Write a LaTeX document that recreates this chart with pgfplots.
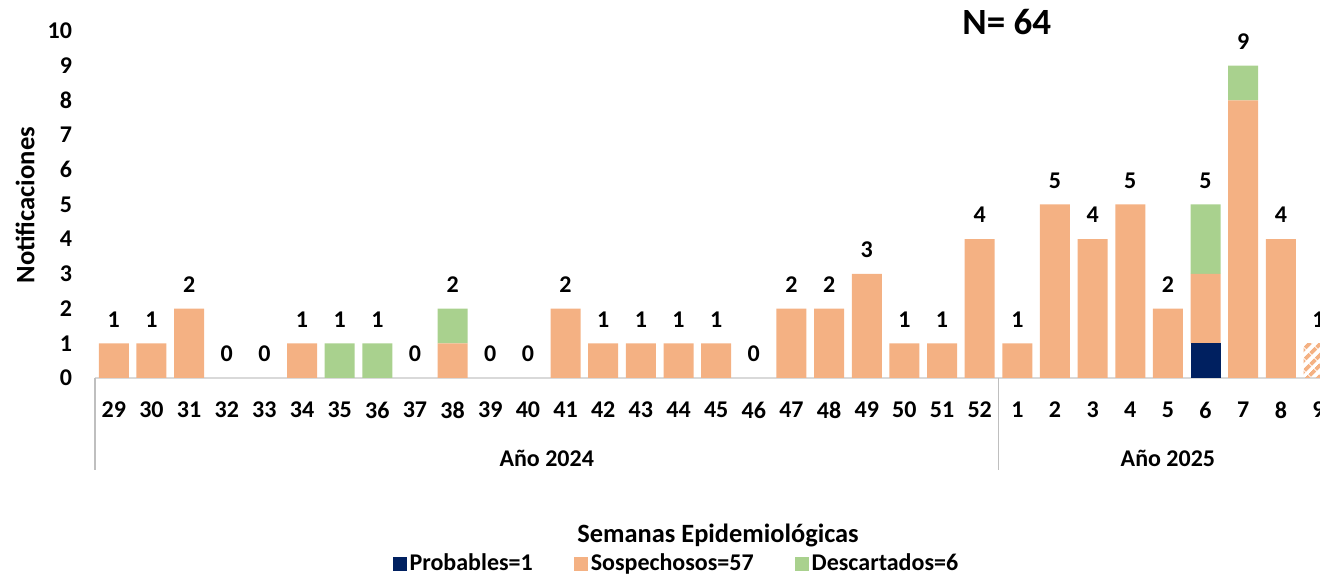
\documentclass[border=0pt]{standalone}
\usepackage{pgfplots}
\pgfplotsset{compat=1.18}
\usepackage{pgfplotstable}
\usepackage{fontspec}
\setmainfont{Carlito}
\usetikzlibrary{patterns.meta}
\definecolor{navy}{HTML}{002060}
\definecolor{peach}{HTML}{F4B183}
\definecolor{lgreen}{HTML}{A9D18E}
\definecolor{axgray}{HTML}{D9D9D9}
\definecolor{sepgray}{HTML}{BFBFBF}

\pgfplotstableread{
x P S D H T
0 0 1 0 0 1
1 0 1 0 0 1
2 0 2 0 0 2
3 0 0 0 0 0
4 0 0 0 0 0
5 0 1 0 0 1
6 0 0 1 0 1
7 0 0 1 0 1
8 0 0 0 0 0
9 0 1 1 0 2
10 0 0 0 0 0
11 0 0 0 0 0
12 0 2 0 0 2
13 0 1 0 0 1
14 0 1 0 0 1
15 0 1 0 0 1
16 0 1 0 0 1
17 0 0 0 0 0
18 0 2 0 0 2
19 0 2 0 0 2
20 0 3 0 0 3
21 0 1 0 0 1
22 0 1 0 0 1
23 0 4 0 0 4
24 0 1 0 0 1
25 0 5 0 0 5
26 0 4 0 0 4
27 0 5 0 0 5
28 0 2 0 0 2
29 1 2 2 0 5
30 0 8 1 0 9
31 0 4 0 0 4
32 0 0 0 1 1
}\data

\pgfplotsset{common/.style={
  scale only axis, width=612.5pt, height=173.5pt,
  xmin=-0.5, xmax=32.04, ymin=0, ymax=10, clip=false,
  /pgf/number format/assume math mode=true}}

\begin{document}
\begin{tikzpicture}
\begin{axis}[
  common,
  ybar stacked, bar width=15pt,
  legend image code/.code={\fill[#1] (0pt,-3.5pt) rectangle (7pt,3.5pt);},
  axis x line*=bottom, axis y line*=left,
  x axis line style={draw=axgray, line width=0.8pt, -},
  y axis line style={draw=none},
  xtick={0,...,32},
  xticklabels={29,30,31,32,33,34,35,36,37,38,39,40,41,42,43,44,45,46,47,48,49,50,51,52,1,2,3,4,5,6,7,8,9},
  ytick={0,...,10},
  major tick length=0pt,
  tick label style={font=\bfseries\fontsize{12}{14}\selectfont},
  xticklabel style={yshift=-8.5pt},
  yticklabel style={xshift=-8pt},
  legend style={at={(0.475,0)}, anchor=center, yshift=-93pt, draw=none, fill=none,
    font=\bfseries\fontsize{12}{14}\selectfont, legend columns=3,
    nodes={inner xsep=1.5pt},
    /tikz/every even column/.append style={column sep=19pt}},
]
\addplot[fill=navy, draw=none] table[x=x, y=P] {\data};
\addlegendentry{Probables=1}
\addplot[fill=peach, draw=none] table[x=x, y=S] {\data};
\addlegendentry{Sospechosos=57}
\addplot[fill=lgreen, draw=none] table[x=x, y=D] {\data};
\addlegendentry{Descartados=6}
\addplot[draw=none, pattern={Lines[angle=45,distance=4pt,line width=2pt]}, pattern color=peach, forget plot] table[x=x, y=H] {\data};
\coordinate (O) at (axis cs:-0.5,0);
\draw[sepgray, line width=0.6pt] (axis cs:-0.5,0) -- ([yshift=-46pt]axis cs:-0.5,0);
\draw[sepgray, line width=0.6pt] (axis cs:23.5,0) -- ([yshift=-46pt]axis cs:23.5,0);
\node[font=\bfseries\fontsize{12}{14}\selectfont] at ([yshift=-40pt]axis cs:11.5,0) {Año 2024};
\node[font=\bfseries\fontsize{12}{14}\selectfont] at ([yshift=-40pt]axis cs:28,0) {Año 2025};
\node[font=\bfseries\fontsize{13.2}{16}\selectfont] at ([yshift=-78.5pt]axis cs:16.05,0) {Semanas Epidemiológicas};
\node[font=\bfseries\fontsize{18.5}{22}\selectfont] at (axis cs:23.72,10.26) {N= 64};
\node[rotate=90, font=\bfseries\fontsize{13.3}{16}\selectfont] at ([xshift=-35pt]axis cs:-0.5,4.98) {Notificaciones};
\end{axis}
\begin{axis}[common, hide axis]
\addplot[draw=none, mark=none, nodes near coords, point meta=explicit,
  nodes near coords style={text=black, anchor=center, font=\bfseries\fontsize{12}{14}\selectfont, yshift=12pt}]
  table[x=x, y=T, meta=T] {\data};
\end{axis}
\pgfresetboundingbox
\path ([shift={(-47.5pt,-99pt)}]O) rectangle ([shift={(612.5pt,189pt)}]O);
\end{tikzpicture}
\end{document}
